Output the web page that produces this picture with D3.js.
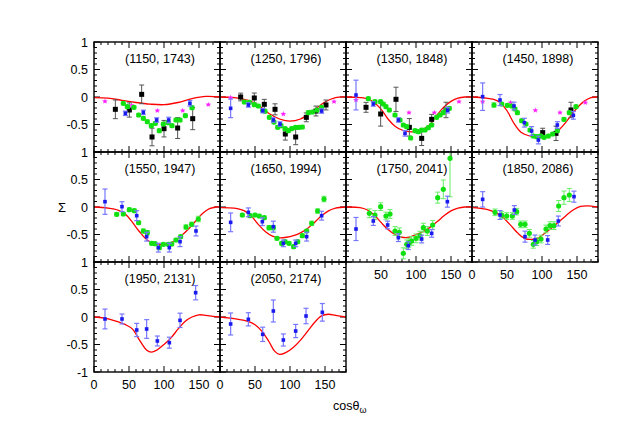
<!DOCTYPE html>
<html><head><meta charset="utf-8">
<script src="https://cdn.jsdelivr.net/npm/d3@7"></script>
<style>body{margin:0;background:#fff}svg{display:block}text{font-family:"Liberation Sans",Arial,sans-serif}</style>
</head><body><svg id="c" width="623" height="439"></svg>
<script>
const panelTitles = ["(1150, 1743)","(1250, 1796)","(1350, 1848)","(1450, 1898)","(1550, 1947)","(1650, 1994)","(1750, 2041)","(1850, 2086)","(1950, 2131)","(2050, 2174)"];
const xTicks = [0,50,100,150];
const yTicks = [1,0.5,0,-0.5,-1];
const yTickLabels = ["1","0.5","0","-0.5","-1"];

// red model curves [x, y]
const redCurves = [
 [[0,-0.01],[20,-0.02],[40,-0.06],[60,-0.1],[80,-0.13],[100,-0.14],[120,-0.1],[140,-0.03],[160,0.01],[180,0]],
 [[0,0],[20,-0.01],[40,-0.06],[55,-0.15],[70,-0.3],[85,-0.4],[100,-0.44],[115,-0.4],[130,-0.28],[150,-0.09],[165,-0.01],[180,0]],
 [[0,0],[20,-0.01],[30,-0.03],[40,-0.1],[50,-0.22],[60,-0.4],[70,-0.53],[80,-0.6],[90,-0.63],[100,-0.63],[110,-0.59],[120,-0.5],[130,-0.33],[140,-0.18],[150,-0.08],[160,-0.02],[170,0],[180,0]],
 [[0,0],[20,-0.02],[30,-0.04],[40,-0.1],[50,-0.25],[60,-0.48],[70,-0.64],[80,-0.7],[90,-0.72],[100,-0.72],[110,-0.7],[120,-0.65],[130,-0.52],[140,-0.36],[150,-0.2],[160,-0.08],[170,-0.01],[180,0]],
 [[0,0],[20,-0.02],[35,-0.06],[45,-0.13],[55,-0.28],[65,-0.45],[75,-0.59],[85,-0.66],[95,-0.68],[105,-0.67],[115,-0.62],[125,-0.52],[135,-0.4],[145,-0.26],[155,-0.12],[165,-0.03],[175,0],[180,0]],
 [[0,-0.01],[20,-0.02],[35,-0.07],[45,-0.17],[55,-0.32],[65,-0.45],[75,-0.53],[85,-0.56],[95,-0.55],[105,-0.52],[115,-0.47],[125,-0.39],[135,-0.28],[145,-0.16],[155,-0.07],[165,-0.02],[180,0]],
 [[0,0],[20,-0.01],[30,-0.05],[40,-0.14],[50,-0.28],[60,-0.41],[70,-0.5],[80,-0.55],[90,-0.55],[100,-0.5],[110,-0.45],[120,-0.37],[130,-0.27],[140,-0.16],[150,-0.07],[160,-0.02],[170,0],[180,0]],
 [[0,-0.01],[20,-0.04],[35,-0.11],[45,-0.2],[55,-0.33],[65,-0.47],[75,-0.57],[85,-0.59],[95,-0.56],[105,-0.47],[115,-0.37],[125,-0.26],[135,-0.15],[145,-0.05],[155,0.01],[165,0.02],[180,0]],
 [[0,0],[15,-0.02],[30,-0.07],[45,-0.14],[55,-0.22],[65,-0.42],[75,-0.6],[82,-0.64],[90,-0.6],[100,-0.5],[110,-0.38],[120,-0.22],[130,-0.08],[140,0],[150,0.04],[160,0.03],[170,0.01],[180,0]],
 [[0,0],[20,-0.03],[40,-0.08],[50,-0.14],[60,-0.26],[70,-0.45],[78,-0.62],[85,-0.68],[95,-0.64],[105,-0.55],[115,-0.42],[125,-0.26],[135,-0.1],[145,0.02],[155,0.05],[165,0.03],[180,0]]
];

// green data [x, y, err]
const greenData = [
 [[41.9,-0.115,0.03],[47.6,-0.176,0.03],[57.1,-0.188,0.03],[63.8,-0.327,0.03],[70.5,-0.388,0.03],[76.2,-0.448,0.03],[81.9,-0.521,0.03],[87.6,-0.479,0.03],[93.3,-0.612,0.03],[99,-0.491,0.03],[105.7,-0.467,0.03],[111.4,-0.521,0.03],[117.1,-0.418,0.03],[122.9,-0.418,0.03],[130.5,-0.339,0.03],[140,-0.194,0.03]],
 [[34.8,-0.091,0.03],[41.9,-0.097,0.03],[49,-0.139,0.03],[54.8,-0.164,0.03],[61,-0.242,0.03],[64.3,-0.261,0.03],[70.5,-0.37,0.03],[77.1,-0.455,0.03],[82.4,-0.552,0.03],[87.1,-0.521,0.03],[92.9,-0.576,0.03],[97.6,-0.612,0.03],[102.4,-0.576,0.03],[108.1,-0.552,0.03],[112.9,-0.552,0.03],[117.6,-0.545,0.03],[126.2,-0.285,0.03],[131.9,-0.273,0.03],[138.6,-0.236,0.03],[145.2,-0.188,0.03]],
 [[31.9,-0.03,0.03],[41.4,-0.085,0.03],[49.5,-0.085,0.03],[53.3,-0.127,0.03],[57.1,-0.176,0.03],[61.9,-0.236,0.03],[70,-0.327,0.03],[77.1,-0.418,0.03],[81.9,-0.509,0.03],[86.7,-0.539,0.03],[92.4,-0.745,0.03],[98.6,-0.612,0.03],[103.3,-0.63,0.03],[108.1,-0.6,0.03],[112.9,-0.6,0.03],[117.6,-0.558,0.03],[122.4,-0.509,0.03],[129.5,-0.37,0.03],[134.3,-0.327,0.03],[139,-0.285,0.03],[143.8,-0.236,0.03],[147.6,-0.206,0.03]],
 [[31.4,-0.145,0.04],[42.4,-0.127,0.03],[50.5,-0.152,0.03],[56.7,-0.164,0.03],[61.4,-0.218,0.03],[64.8,-0.285,0.03],[71,-0.43,0.03],[77.1,-0.491,0.03],[82.9,-0.6,0.03],[87.6,-0.709,0.03],[92.4,-0.721,0.03],[98.1,-0.709,0.03],[102.9,-0.733,0.03],[109,-0.709,0.03],[115.2,-0.673,0.03],[121.9,-0.612,0.03],[131.4,-0.406,0.03],[139,-0.285,0.03],[148.6,-0.176,0.03]],
 [[32.4,-0.133,0.03],[41.9,-0.127,0.03],[50.5,-0.048,0.03],[57.6,-0.067,0.03],[63.8,-0.285,0.03],[70.5,-0.436,0.04],[76.2,-0.467,0.04],[82.4,-0.661,0.03],[87.1,-0.667,0.03],[93.3,-0.739,0.03],[99,-0.679,0.03],[106.2,-0.679,0.03],[111,-0.673,0.03],[117.1,-0.6,0.03],[123.8,-0.539,0.03],[131.4,-0.364,0.04],[139.5,-0.315,0.04],[149,-0.218,0.05]],
 [[31.9,-0.145,0.03],[42.9,-0.158,0.03],[50,-0.145,0.03],[56.2,-0.164,0.03],[63.3,-0.194,0.03],[70,-0.376,0.04],[76.2,-0.376,0.04],[81.4,-0.57,0.03],[88.1,-0.661,0.03],[92.9,-0.63,0.03],[98.6,-0.661,0.03],[105.2,-0.721,0.03],[111,-0.63,0.03],[117.6,-0.521,0.03],[123.8,-0.436,0.03],[131,-0.297,0.04],[139.5,-0.073,0.04],[148.6,0.145,0.05]],
 [[33.3,-0.115,0.08],[41.4,-0.145,0.08],[49.5,0.006,0.07],[57.1,-0.164,0.07],[62.9,-0.127,0.08],[70,-0.436,0.08],[76.2,-0.461,0.08],[81.9,-0.842,0.1],[86.7,-0.679,0.08],[90,-0.648,0.08],[93.8,-0.618,0.08],[100,-0.57,0.08],[105.7,-0.521,0.08],[110.5,-0.376,0.08],[116.2,-0.436,0.08],[123.8,-0.327,0.08],[131,0.17,0.1],[139,0.321,0.17],[148.6,0.885,0.7]],
 [[32.9,-0.097,0.06],[42.4,-0.145,0.06],[49.5,-0.164,0.06],[57.6,-0.164,0.06],[63.8,-0.085,0.06],[69.5,-0.315,0.06],[75.7,-0.315,0.06],[81.9,-0.479,0.07],[87.6,-0.679,0.07],[92.4,-0.63,0.07],[98.6,-0.582,0.07],[105.7,-0.4,0.07],[111.4,-0.339,0.07],[117.1,-0.339,0.07],[123.8,0.018,0.1],[131.4,0.17,0.12],[139,0.218,0.12]],
 [],
 []
];

// blue data [x, y, err]
const blueData = [
 [[44.8,-0.297,0.04],[70.5,-0.279,0.04],[89.5,-0.418,0.04],[106.7,-0.418,0.05],[137,-0.115,0.05]],
 [[15.2,-0.206,0.17],[40.5,-0.145,0.04],[61,-0.248,0.04],[76.2,-0.418,0.04],[85.7,-0.491,0.04],[145.2,-0.255,0.04]],
 [[14.3,0.036,0.27],[39,-0.127,0.04],[74.8,-0.418,0.04],[84.3,-0.661,0.05],[145.2,-0.24,0.05]],
 [[15.2,0.006,0.25],[40,-0.055,0.1],[60,-0.164,0.07],[74.8,-0.467,0.08],[85.2,-0.618,0.08],[94.8,-0.782,0.07],[121.9,-0.509,0.06],[144.8,-0.333,0.07]],
 [[15.7,0.097,0.23],[40,0.006,0.09],[61,-0.158,0.09],[75.2,-0.539,0.08],[91.9,-0.739,0.08],[107.6,-0.739,0.08],[122.9,-0.63,0.09],[145.7,-0.436,0.09]],
 [[15.2,-0.279,0.17],[40.5,-0.097,0.08],[60.5,-0.267,0.07],[76.2,-0.358,0.1],[90.5,-0.661,0.06],[108.1,-0.661,0.06],[123.8,-0.539,0.08],[145.2,-0.158,0.08]],
 [[14.3,-0.4,0.21],[39,-0.255,0.08],[59.5,-0.327,0.07],[74.8,-0.558,0.07],[89,-0.703,0.07],[108.1,-0.582,0.07],[122.4,-0.479,0.07],[144.8,0.097,0.1]],
 [[15.2,0.139,0.14],[40,-0.145,0.08],[60.5,-0.055,0.08],[75.7,-0.539,0.1],[90,-0.6,0.09],[108.1,-0.6,0.08],[123.3,-0.255,0.09],[145.7,0.188,0.1]],
 [[15.7,-0.036,0.18],[40,-0.036,0.09],[61,-0.236,0.12],[75.2,-0.218,0.17],[90.5,-0.436,0.09],[107.6,-0.467,0.1],[122.9,-0.061,0.13],[145.2,0.442,0.13]],
 [[15.2,-0.127,0.2],[40.5,-0.042,0.12],[61,-0.315,0.13],[76.2,0.109,0.2],[90.5,-0.418,0.11],[108.1,-0.255,0.12],[122.9,0.018,0.14],[146.2,0.085,0.16]]
];

// black data [x, y, err]
const blackData = [
 [[30.5,-0.224,0.17],[50.5,-0.236,0.13],[68.1,0.048,0.17],[82.9,-0.727,0.16],[100,-0.576,0.15],[119.5,-0.564,0.19],[141,-0.394,0.2]],
 [[29.5,0.0,0.07],[49,-0.018,0.09],[63.3,-0.133,0.09],[78.6,-0.224,0.1],[93.3,-0.673,0.11],[108.1,-0.727,0.14],[123.3,-0.37,0.08],[137.1,-0.255,0.09],[151.4,-0.145,0.09]],
 [[28.6,-0.188,0.09],[49.5,-0.309,0.22],[71.4,-0.042,0.22],[90.5,-0.552,0.16],[108.1,-0.752,0.13],[122.4,-0.406,0.09],[142.9,-0.236,0.14]],
 [[101,-0.648,0.08],[120,-0.661,0.13],[141.4,-0.236,0.14]],
 [],[],[],[],[],[]
];

// magenta data [x, y]
const magentaData = [
 [[15.7,-0.079],[53.8,-0.152],[90.5,-0.248],[126.7,-0.248],[163.3,-0.139]],
 [[15.2,-0.012],[90.5,-0.309],[127.6,-0.279],[162.9,-0.085]],
 [[14.3,-0.055],[90,-0.285],[126.2,-0.285],[161.4,-0.085]],
 [[15.2,-0.085],[55.2,-0.103],[90.5,-0.242],[125.7,-0.285],[161.9,-0.103]],
 [],[],[],[],[],[]
];

const svg = d3.select("#c");
const left0 = 94, top0 = 42, pw = 126, ph = 110;
const x = d3.scaleLinear().domain([0,180]).range([0,pw]);
const y = d3.scaleLinear().domain([-1,1]).range([ph,0]);
const clampY = v => Math.max(-1, Math.min(1, v));

const defs = svg.append("defs");
defs.append("clipPath").attr("id","pclip").append("rect").attr("width",pw).attr("height",ph);

const line = d3.line().x(d=>x(d[0])).y(d=>y(d[1])).curve(d3.curveCatmullRom.alpha(0.5));

function errBars(g, data, color, cap, width) {
  const eg = g.append("g").attr("clip-path","url(#pclip)");
  data.forEach(d => {
    const y1 = y(clampY(d[1]-d[2])), y2 = y(clampY(d[1]+d[2])), cx = x(d[0]);
    eg.append("line").attr("x1",cx).attr("x2",cx).attr("y1",y1).attr("y2",y2).attr("stroke",color).attr("stroke-width",width);
    [d[1]-d[2], d[1]+d[2]].forEach(v => {
      if (v >= -1 && v <= 1) eg.append("line").attr("x1",cx-cap).attr("x2",cx+cap).attr("y1",y(v)).attr("y2",y(v)).attr("stroke",color).attr("stroke-width",width);
    });
  });
}

panelTitles.forEach((t,i) => {
  const col = i % 4, row = Math.floor(i/4);
  const g = svg.append("g").attr("transform",`translate(${left0+col*pw},${top0+row*ph})`);

  // ticks (inward on all sides)
  const tk = g.append("g").attr("stroke","#000").attr("stroke-width",1);
  for (let v = 0; v <= 180; v += 10) {
    const L = v % 50 === 0 ? 6 : 3;
    tk.append("line").attr("x1",x(v)).attr("x2",x(v)).attr("y1",ph).attr("y2",ph-L);
    tk.append("line").attr("x1",x(v)).attr("x2",x(v)).attr("y1",0).attr("y2",L);
  }
  for (let k = -10; k <= 10; k++) {
    const v = k/10, L = k % 5 === 0 ? 6 : 3;
    tk.append("line").attr("x1",0).attr("x2",L).attr("y1",y(v)).attr("y2",y(v));
    tk.append("line").attr("x1",pw).attr("x2",pw-L).attr("y1",y(v)).attr("y2",y(v));
  }

  // red curve
  g.append("path").datum(redCurves[i]).attr("d",line).attr("fill","none")
   .attr("stroke","#ff0000").attr("stroke-width",1.3).attr("clip-path","url(#pclip)");

  // magenta
  errBars(g, magentaData[i].map(d=>[d[0],d[1],0.012]), "#ff99ff", 2, 1);
  g.append("g").selectAll("path").data(magentaData[i]).join("path")
   .attr("transform",d=>`translate(${x(d[0])},${y(d[1])})`)
   .attr("d",d3.symbol(d3.symbolStar,10)()).attr("fill","#ff22ff");

  // black
  errBars(g, blackData[i], "#555555", 2.5, 1);
  g.append("g").selectAll("rect").data(blackData[i]).join("rect")
   .attr("x",d=>x(d[0])-2.5).attr("y",d=>y(d[1])-2.5).attr("width",5).attr("height",5).attr("fill","#000");

  // green
  errBars(g, greenData[i], "#66ee66", 2.5, 1);
  g.append("g").selectAll("circle").data(greenData[i]).join("circle")
   .attr("cx",d=>x(d[0])).attr("cy",d=>y(d[1])).attr("r",2.6).attr("fill","#11e011");

  // blue
  errBars(g, blueData[i], "#7777ff", 2.5, 1.2);
  g.append("g").selectAll("rect").data(blueData[i]).join("rect")
   .attr("x",d=>x(d[0])-1.8).attr("y",d=>y(d[1])-1.8).attr("width",3.6).attr("height",3.6).attr("fill","#1a1aee");

  // frame
  g.append("rect").attr("width",pw).attr("height",ph).attr("fill","none").attr("stroke","#000").attr("stroke-width",1.4);

  // title
  g.append("text").attr("x",pw/2+3).attr("y",21).attr("text-anchor","middle").attr("font-size",12.5).text(t);

  // y labels
  if (col === 0) {
    yTicks.forEach((v,k) => {
      if (v === -1 && row < 2) return;
      g.append("text").attr("x",-6).attr("y",y(v)+4.5).attr("text-anchor","end").attr("font-size",12.5).text(yTickLabels[k]);
    });
  }
  // x labels where no panel below
  if (i + 4 >= panelTitles.length) {
    xTicks.forEach(v => {
      if (v === 0 && col === 2) return;
      g.append("text").attr("x",x(v)).attr("y",ph+17).attr("text-anchor","middle").attr("font-size",12.5).text(v);
    });
  }
});

// axis titles
svg.append("text").attr("x",62).attr("y",212).attr("text-anchor","middle").attr("font-size",13).text("Σ");
const xt = svg.append("text").attr("x",333).attr("y",410).attr("font-size",12.5);
xt.append("tspan").text("cosθ");
xt.append("tspan").attr("font-size",9).attr("dy",3).text("ω");
</script>
</body></html>
